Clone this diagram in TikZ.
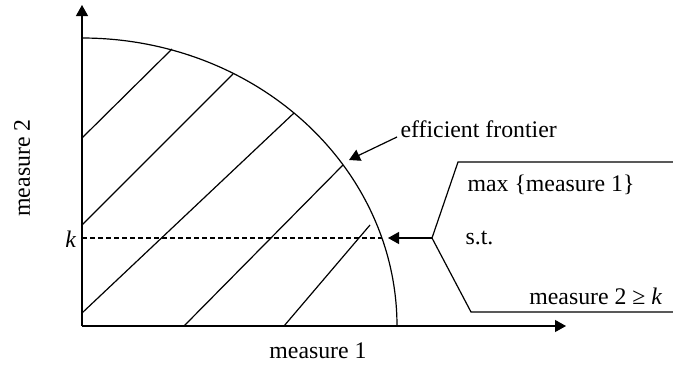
\documentclass[tikz,border=0pt]{standalone}
\usepackage{fontspec}
\setmainfont{Liberation Serif}
\usetikzlibrary{arrows.meta}

\begin{document}
\begin{tikzpicture}[x=0.5pt, y=-0.5pt, >={Triangle[length=5.5pt, width=6pt]},
    line width=0.6pt, font=\fontsize{11.9}{14}\selectfont,
    lbl/.style={inner sep=0pt}]

            \useasboundingbox (0,0) rectangle (673,364);

            % Corners of the plot
            \coordinate (O) at (82,326);
            \coordinate (ytip) at (82,5);
            \coordinate (xtip) at (566,326);

            % Draw the axes
            \draw[->] (O) -- (ytip);
            \draw[->] (O) -- (xtip);

            % Draw the efficient frontier (a quarter ellipse)
            \draw plot[smooth, domain=0:90, samples=46]
                ({82+315*cos(\x)}, {326-288*sin(\x)});

            % Hatch the feasible region
            \draw (82,138) -- (172,49);
            \draw (82,225) -- (233,74);
            \draw (82,313) -- (294,113);
            \draw (184,326) -- (343,165);
            \draw (284,326) -- (370,225);

            % The level k of measure 2
            \coordinate (kleft) at (82,238);
            \coordinate (kright) at (382,238);
            \draw[dash pattern=on 2.5pt off 1.5pt] (kleft) -- (kright);
            \node[lbl, anchor=east] (k) at (77,239) {\textit{k}};

            % Axis labels
            \node[rotate=90] (ylabel) at (22,168) {measure 2};
            \node[lbl, anchor=base] (xlabel) at (318,358) {measure 1};

            % Label of the frontier
            \node[inner sep=1.5pt, anchor=base west] (eff) at (397,137) {efficient frontier};
            \coordinate (effhit) at (349,160);
            \draw[->] (eff.base west) -- (effhit);

            % The problem and its bracket
            \coordinate (branch) at (432,238);
            \coordinate (sttip) at (388,238);
            \draw (673,162) -- (458,162) -- (branch) -- (471,312) -- (673,312);
            \draw[->] (branch) -- (sttip);

            \node[lbl, anchor=base west] (obj) at (467,191) {max \{measure 1\}};
            \node[lbl, anchor=base west] (st) at (465,244) {s.t.};
            \node[lbl, anchor=base east] (cons) at (663,304) {measure 2 ≥ \textit{k}};

        \end{tikzpicture}
\end{document}
